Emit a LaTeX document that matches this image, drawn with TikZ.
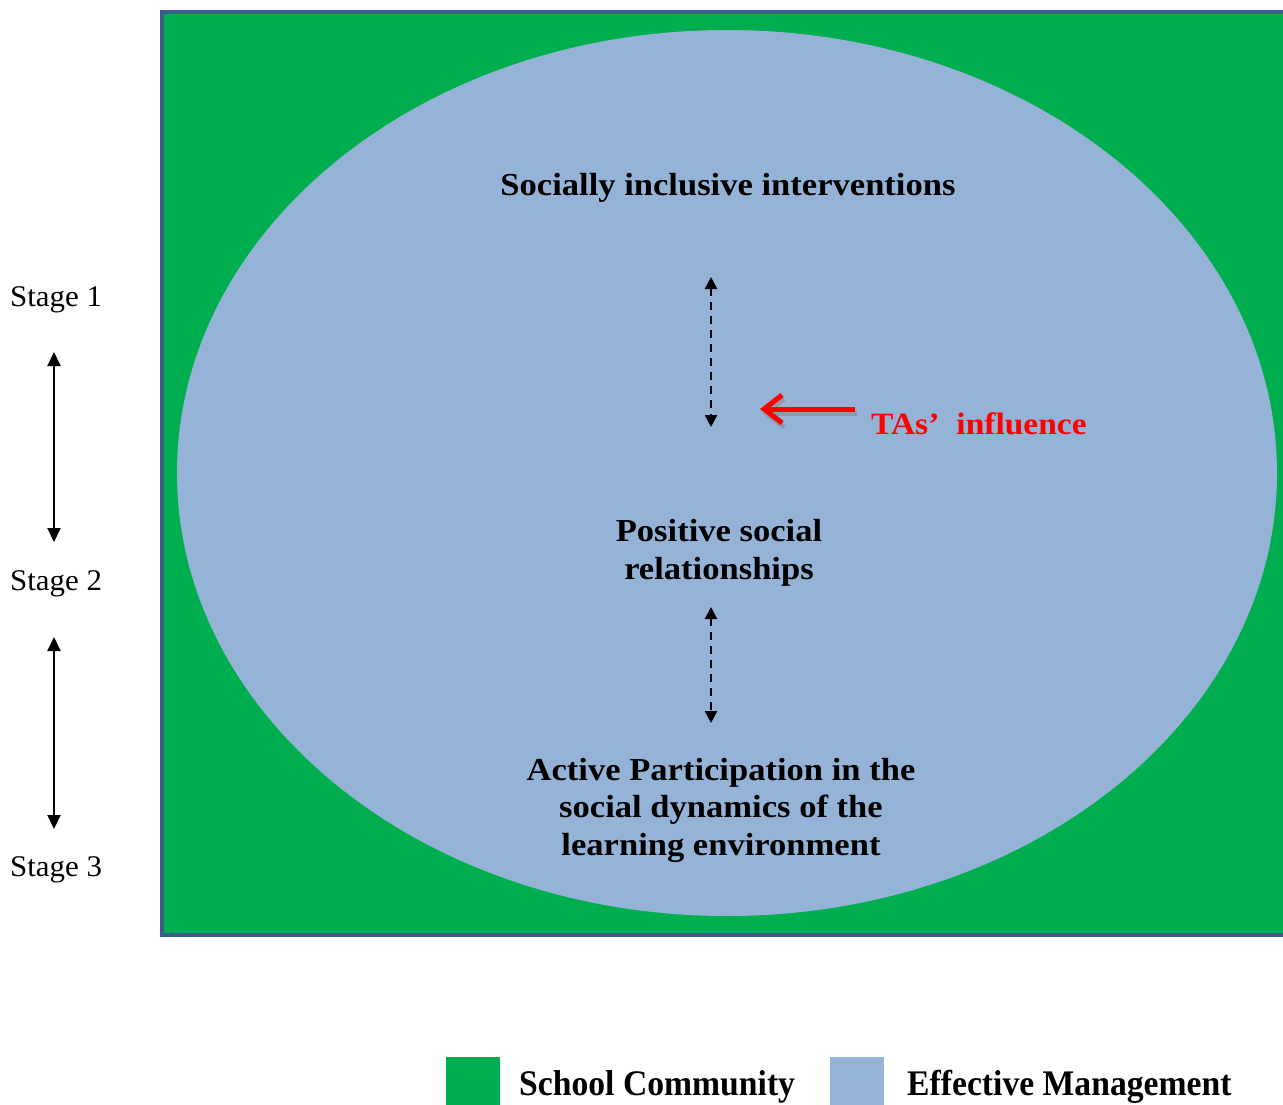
\documentclass[tikz,border=0pt]{standalone}
\usepackage{fontspec}
\setmainfont{Liberation Serif}
\newfontfamily\widefont[FakeStretch=1.08]{Liberation Serif}
\newfontfamily\stagefont[FakeStretch=1.03]{Liberation Serif}
\newfontfamily\narrowfont[FakeStretch=0.935]{Liberation Serif}
\usetikzlibrary{arrows.meta}
\definecolor{schoolgreen}{HTML}{00AE4F}
\definecolor{mgmtblue}{HTML}{95B3D7}
\definecolor{frameblue}{HTML}{3A5E8C}
\tikzset{
  mainlbl/.style={font=\widefont\bfseries\fontsize{32}{37.5}\selectfont, align=center, text=black, inner sep=0pt},
  stagelbl/.style={font=\stagefont\fontsize{30}{34}\selectfont, anchor=base west, inner sep=0pt},
  stagearrow/.style={line width=2pt, {Triangle[length=14pt,width=13pt]}-{Triangle[length=14pt,width=13pt]}},
  dasharrow/.style={line width=2.2pt, dash pattern=on 8pt off 6pt, {Triangle[length=12pt,width=12pt]}-{Triangle[length=12pt,width=12pt]}},
  legendlbl/.style={font=\narrowfont\bfseries\fontsize{36}{40}\selectfont, anchor=base west, inner sep=0pt},
}
\begin{document}
\begin{tikzpicture}[x=1pt,y=-1pt]
\useasboundingbox (0,0) rectangle (1283,1104);
\begin{scope}
\clip (0,0) rectangle (1283,1104);
\draw[fill=schoolgreen, draw=frameblue, line width=4pt] (162,12) rectangle (1300,935);
\end{scope}
\fill[mgmtblue] (727,473) ellipse [x radius=550, y radius=443];

\node[mainlbl, anchor=base] (sii) at (728,195) {Socially inclusive interventions};
\node[mainlbl] (psr) at (719,553) {Positive social\\relationships};
\node[mainlbl] (ap) at (721,810) {Active Participation in the\\social dynamics of the\\learning environment};

\coordinate (d1a) at (711,277);
\coordinate (d1b) at (711,427);
\coordinate (d2a) at (711,607);
\coordinate (d2b) at (711,723);
\draw[dasharrow] (d1a) -- (d1b);
\draw[dasharrow] (d2a) -- (d2b);

\node[font=\widefont\bfseries\fontsize{31}{34}\selectfont, text=red, anchor=base west, inner sep=0pt] (tas) at (871,434) {TAs’\hspace{0.55em}influence};
\coordinate (rtail) at (855,409);
\coordinate (rhead) at (760,409);
\draw[line width=5pt, black!45, opacity=0.6, -{Straight Barb[length=18pt,width=28pt]}] ([shift={(2,4)}]rtail) -- ([shift={(2,4)}]rhead);
\draw[line width=5pt, red, -{Straight Barb[length=18pt,width=28pt]}] (rtail) -- (rhead);

\node[stagelbl] (s1) at (10,306) {Stage 1};
\node[stagelbl] (s2) at (10,590) {Stage 2};
\node[stagelbl] (s3) at (10,876) {Stage 3};
\coordinate (a1t) at (54,352);
\coordinate (a1b) at (54,542);
\coordinate (a2t) at (54,637);
\coordinate (a2b) at (54,829);
\draw[stagearrow] (a1t) -- (a1b);
\draw[stagearrow] (a2t) -- (a2b);

\fill[schoolgreen] (446,1057) rectangle (500,1110);
\fill[mgmtblue] (830,1057) rectangle (884,1110);
\node[legendlbl] (lg1) at (519,1095) {School Community};
\node[legendlbl] (lg2) at (907,1095) {Effective Management};
\end{tikzpicture}
\end{document}
